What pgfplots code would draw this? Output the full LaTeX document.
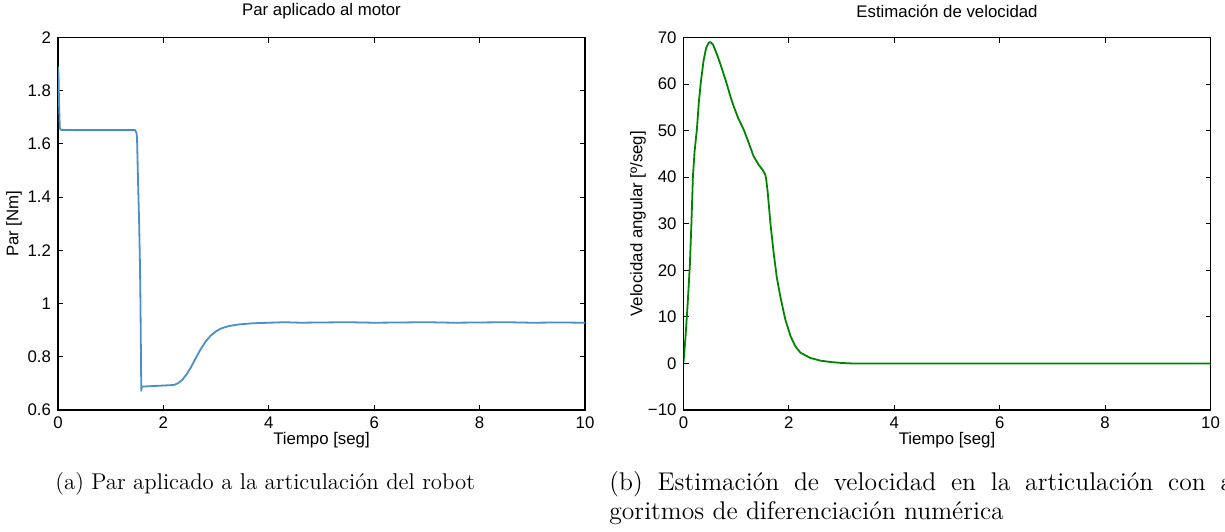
\documentclass[border=0pt]{standalone}
\usepackage{fontspec}
\usepackage{pgfplots}
\pgfplotsset{compat=1.18}
\newfontfamily\arial{Liberation Sans}

\definecolor{parblue}{rgb}{0.29,0.56,0.78}
\definecolor{velgreen}{rgb}{0.0,0.52,0.0}

\pgfplotsset{
  matlabstyle/.style={
    scale only axis,
    width=263.5pt, height=186.25pt,
    axis line style={line width=0.6pt},
    tick align=inside,
    major tick length=2.5pt,
    tick style={line width=0.5pt, black},
    xmin=0, xmax=10,
    xtick={0,2,...,10},
    font=\fontsize{8.4}{10}\arial,
    ticklabel style={font=\fontsize{8.4}{10}\arial},
    /pgf/number format/assume math mode=true,
    xlabel={Tiempo [seg]},
    xlabel style={at={(axis description cs:0.5,-0.0805)}, anchor=center},
    title style={at={(0.5,1.039)}, anchor=center, font=\fontsize{8.4}{10}\arial},
  }
}

\begin{document}
\begin{tikzpicture}

% Torque applied to the joint
\begin{axis}[matlabstyle,
  at={(29pt,-205pt)}, anchor=south west,
  ymin=0.6, ymax=2,
  ytick={0.6,0.8,...,2.01},
  yticklabels={0.6,0.8,1,1.2,1.4,1.6,1.8,2},
  ylabel={Par [Nm]},
  ylabel style={at={(axis description cs:-0.0835,0.5)}, anchor=center},
  title={Par aplicado al motor},
]
\addplot[color=parblue, line width=0.9pt] coordinates {
(0,1.89) (0.01,1.86) (0.02,1.75) (0.035,1.66) (0.05,1.653) (0.3,1.652)
(0.8,1.652) (1.2,1.652) (1.46,1.652) (1.49,1.642) (1.50,1.62) (1.52,1.45)
(1.54,1.30) (1.555,1.15) (1.565,1.00) (1.572,0.85) (1.578,0.72) (1.58,0.67)
(1.585,0.684) (1.6,0.688) (1.8,0.690) (2.0,0.692) (2.2,0.694) (2.28,0.701)
(2.36,0.714) (2.44,0.734) (2.52,0.760) (2.6,0.790) (2.7,0.826) (2.8,0.857)
(2.9,0.880) (3.0,0.896) (3.1,0.907) (3.25,0.916) (3.45,0.922) (3.7,0.926)
(4.0,0.928) (4.3,0.930) (4.6,0.928) (5.0,0.929) (5.5,0.930) (6.0,0.928)
(6.5,0.929) (7.0,0.930) (7.5,0.928) (8.0,0.929) (8.5,0.930) (9.0,0.928)
(9.5,0.929) (10,0.928)
};
\end{axis}

% Estimated angular velocity
\begin{axis}[matlabstyle,
  at={(341.75pt,-205pt)}, anchor=south west,
  ymin=-10, ymax=70,
  ytick={-10,0,10,20,30,40,50,60,70},
  yticklabels={−10,0,10,20,30,40,50,60,70},
  ylabel={Velocidad angular [º/seg]},
  ylabel style={at={(axis description cs:-0.0864,0.5)}, anchor=center},
  title={Estimación de velocidad},
]
\addplot[color=velgreen, line width=0.9pt] coordinates {
(0,0.2) (0.04,6) (0.08,13) (0.12,21) (0.15,30) (0.178,40) (0.21,45.5)
(0.254,50.3) (0.29,56) (0.33,60.5) (0.38,65) (0.43,67.8) (0.48,68.9)
(0.51,69) (0.56,68.5) (0.62,66.8) (0.7,64.3) (0.8,60.8) (0.9,57)
(0.95,55.3) (1.04,52.6) (1.14,50.3) (1.24,47.3) (1.33,44.5) (1.43,42.6)
(1.5,41.6) (1.55,40.6) (1.57,39.5) (1.6,36.5) (1.65,30) (1.71,23.8)
(1.77,18.5) (1.835,14.5) (1.93,9.5) (2.03,5.9) (2.12,3.7) (2.22,2.3)
(2.4,1.2) (2.6,0.6) (2.8,0.3) (3.0,0.1) (3.2,0) (10,0)
};
\end{axis}

% Subfigure captions
\node[anchor=base west, inner sep=0pt, font=\fontsize{11.4}{14}\selectfont]
  at (27.5pt,-244.5pt) {(a) Par aplicado a la articulación del robot};
\node[anchor=north west, inner sep=0pt, text width=319.5pt, align=justify,
      font=\fontsize{12.8}{14.2}\selectfont]
  at (304.5pt,-235.5pt)
  {(b) Estimación de velocidad en la articulación con al-\linebreak
   goritmos de diferenciación numérica};

\pgfresetboundingbox
\path[use as bounding box] (0,0) rectangle (612.5pt,-265.5pt);
\end{tikzpicture}
\end{document}
